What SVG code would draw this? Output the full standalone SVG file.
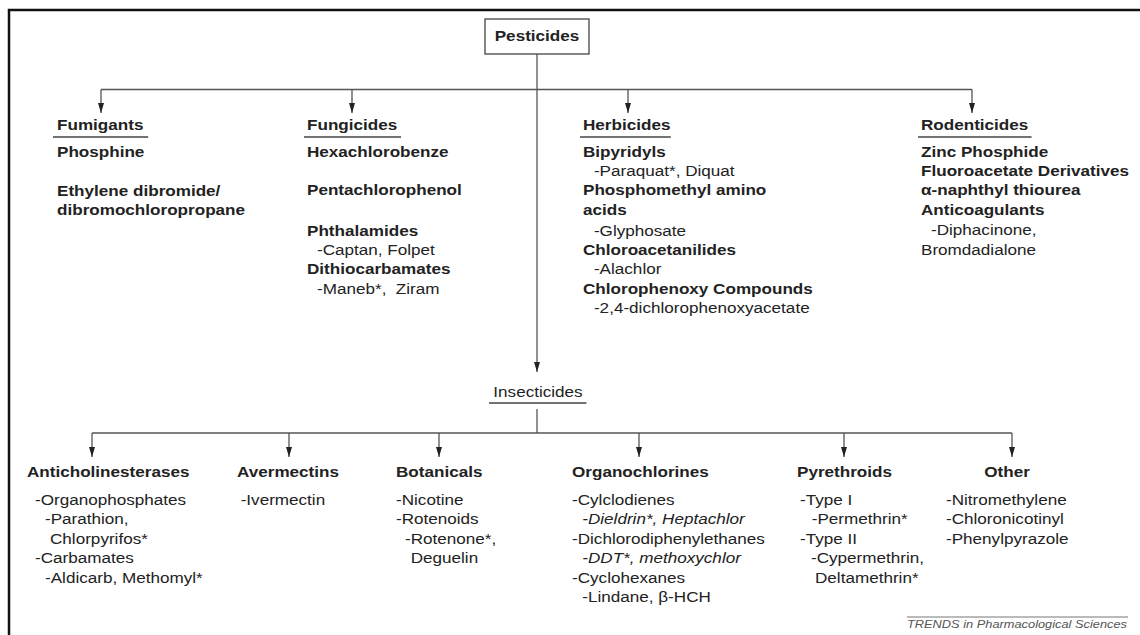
<svg xmlns="http://www.w3.org/2000/svg" width="1140" height="635" viewBox="0 0 1140 635">
<style>
text{font-family:"Liberation Sans",Arial,sans-serif;font-size:15px;fill:#222}
.b{font-weight:bold}
.i{font-style:italic}
.ul{stroke:#444;stroke-width:1.3}
.c{stroke:#555;stroke-width:1.3;fill:none}
.foot{font-size:11px;font-style:italic;fill:#555}
</style>
<defs>
<marker id="ah" markerUnits="userSpaceOnUse" markerWidth="11" markerHeight="8" refX="10" refY="3.5" orient="auto" viewBox="0 0 11 8">
<path d="M0,0.5 L10,3.5 L0,6.5 z" fill="#222"/>
</marker>
</defs>
<rect x="9" y="10" width="1200" height="700" fill="#fff" stroke="#111" stroke-width="2.5"/>

<g id="connectors">
<line class="c" x1="537" y1="54" x2="537" y2="372" marker-end="url(#ah)"/>
<line class="c" x1="101" y1="89.5" x2="972" y2="89.5"/>
<line class="c" x1="101" y1="89.5" x2="101" y2="113" marker-end="url(#ah)"/>
<line class="c" x1="352" y1="89.5" x2="352" y2="113" marker-end="url(#ah)"/>
<line class="c" x1="628" y1="89.5" x2="628" y2="113" marker-end="url(#ah)"/>
<line class="c" x1="972" y1="89.5" x2="972" y2="113" marker-end="url(#ah)"/>
<line class="c" x1="537" y1="409" x2="537" y2="433"/>
<line class="c" x1="92" y1="433" x2="1012" y2="433"/>
<line class="c" x1="92" y1="433" x2="92" y2="457" marker-end="url(#ah)"/>
<line class="c" x1="289" y1="433" x2="289" y2="457" marker-end="url(#ah)"/>
<line class="c" x1="439" y1="433" x2="439" y2="457" marker-end="url(#ah)"/>
<line class="c" x1="639" y1="433" x2="639" y2="457" marker-end="url(#ah)"/>
<line class="c" x1="844" y1="433" x2="844" y2="457" marker-end="url(#ah)"/>
<line class="c" x1="1012" y1="433" x2="1012" y2="457" marker-end="url(#ah)"/>
</g>

<g id="pesticides">
<rect x="485" y="19" width="104" height="35" fill="#fff" stroke="#444" stroke-width="1.3"/>
<g transform="translate(537,0) scale(1.14,1)"><text class="b" x="0" y="41.5" text-anchor="middle">Pesticides</text></g>
</g>

<g id="fumigants" transform="translate(57,0) scale(1.14,1)">
<text class="b" x="0" y="130">Fumigants</text>
<line class="ul" x1="-3.5" y1="137" x2="80" y2="137"/>
<text class="b" x="0" y="157">Phosphine</text>
<text class="b" x="0" y="196">Ethylene dibromide/</text>
<text class="b" x="0" y="215">dibromochloropropane</text>
</g>

<g id="fungicides" transform="translate(307,0) scale(1.14,1)">
<text class="b" x="0" y="130">Fungicides</text>
<line class="ul" x1="-2.6" y1="137" x2="82.5" y2="137"/>
<text class="b" x="0" y="157">Hexachlorobenze</text>
<text class="b" x="0" y="195.5">Pentachlorophenol</text>
<text class="b" x="0" y="236">Phthalamides</text>
<text x="8.8" y="255">-Captan, Folpet</text>
<text class="b" x="0" y="274.5">Dithiocarbamates</text>
<text x="8.8" y="294" xml:space="preserve">-Maneb*,  Ziram</text>
</g>

<g id="herbicides" transform="translate(583,0) scale(1.14,1)">
<text class="b" x="0" y="130">Herbicides</text>
<line class="ul" x1="-2.6" y1="137" x2="77" y2="137"/>
<text class="b" x="0" y="157">Bipyridyls</text>
<text x="9.6" y="176">-Paraquat*, Diquat</text>
<text class="b" x="0" y="195.5">Phosphomethyl amino</text>
<text class="b" x="0" y="215">acids</text>
<text x="9.6" y="236">-Glyphosate</text>
<text class="b" x="0" y="255">Chloroacetanilides</text>
<text x="9.6" y="274.5">-Alachlor</text>
<text class="b" x="0" y="294">Chlorophenoxy Compounds</text>
<text x="9.6" y="313.5">-2,4-dichlorophenoxyacetate</text>
</g>

<g id="rodenticides" transform="translate(921,0) scale(1.14,1)">
<text class="b" x="0" y="130">Rodenticides</text>
<line class="ul" x1="-2.6" y1="137" x2="97" y2="137"/>
<text class="b" x="0" y="157">Zinc Phosphide</text>
<text class="b" x="0" y="176">Fluoroacetate Derivatives</text>
<text class="b" x="0" y="195.5">α-naphthyl thiourea</text>
<text class="b" x="0" y="215">Anticoagulants</text>
<text x="8.8" y="235.5">-Diphacinone,</text>
<text x="0" y="255">Bromdadialone</text>
</g>

<g id="insecticides" transform="translate(538,0) scale(1.14,1)">
<text x="0" y="397" text-anchor="middle">Insecticides</text>
<line class="ul" x1="-43" y1="403" x2="42.5" y2="403"/>
</g>

<g id="anticholinesterases" transform="translate(27,0) scale(1.14,1)">
<text class="b" x="0" y="477">Anticholinesterases</text>
<text x="7" y="505">-Organophosphates</text>
<text x="15.8" y="524.5">-Parathion,</text>
<text x="20.2" y="544">Chlorpyrifos*</text>
<text x="7" y="563.5">-Carbamates</text>
<text x="15.8" y="583">-Aldicarb, Methomyl*</text>
</g>

<g id="avermectins" transform="translate(237,0) scale(1.14,1)">
<text class="b" x="0" y="477">Avermectins</text>
<text x="3.2" y="505">-Ivermectin</text>
</g>

<g id="botanicals" transform="translate(396,0) scale(1.14,1)">
<text class="b" x="0" y="477">Botanicals</text>
<text x="0" y="505">-Nicotine</text>
<text x="0" y="524.5">-Rotenoids</text>
<text x="7.9" y="544">-Rotenone*,</text>
<text x="12.9" y="563.5">Deguelin</text>
</g>

<g id="organochlorines" transform="translate(572,0) scale(1.14,1)">
<text class="b" x="0" y="477">Organochlorines</text>
<text x="0" y="505">-Cylclodienes</text>
<text class="i" x="9" y="524.5">-Dieldrin*, Heptachlor</text>
<text x="0" y="544">-Dichlorodiphenylethanes</text>
<text class="i" x="9" y="563.5">-DDT*, methoxychlor</text>
<text x="0" y="583">-Cyclohexanes</text>
<text x="9" y="602.5">-Lindane, β-HCH</text>
</g>

<g id="pyrethroids" transform="translate(797,0) scale(1.14,1)">
<text class="b" x="0" y="477">Pyrethroids</text>
<text x="2.6" y="505">-Type I</text>
<text x="12.9" y="524.5">-Permethrin*</text>
<text x="2.6" y="544">-Type II</text>
<text x="12.3" y="563.5">-Cypermethrin,</text>
<text x="15.8" y="583">Deltamethrin*</text>
</g>

<g id="other" transform="translate(946,0) scale(1.14,1)">
<text class="b" x="33.6" y="477">Other</text>
<text x="0" y="505">-Nitromethylene</text>
<text x="0" y="524.5">-Chloronicotinyl</text>
<text x="0" y="544">-Phenylpyrazole</text>
</g>

<g id="footer">
<line x1="907" y1="617" x2="1128" y2="617" stroke="#777" stroke-width="1"/>
<text class="foot" x="907" y="628" textLength="220" lengthAdjust="spacingAndGlyphs">TRENDS in Pharmacological Sciences</text>
</g>
</svg>
